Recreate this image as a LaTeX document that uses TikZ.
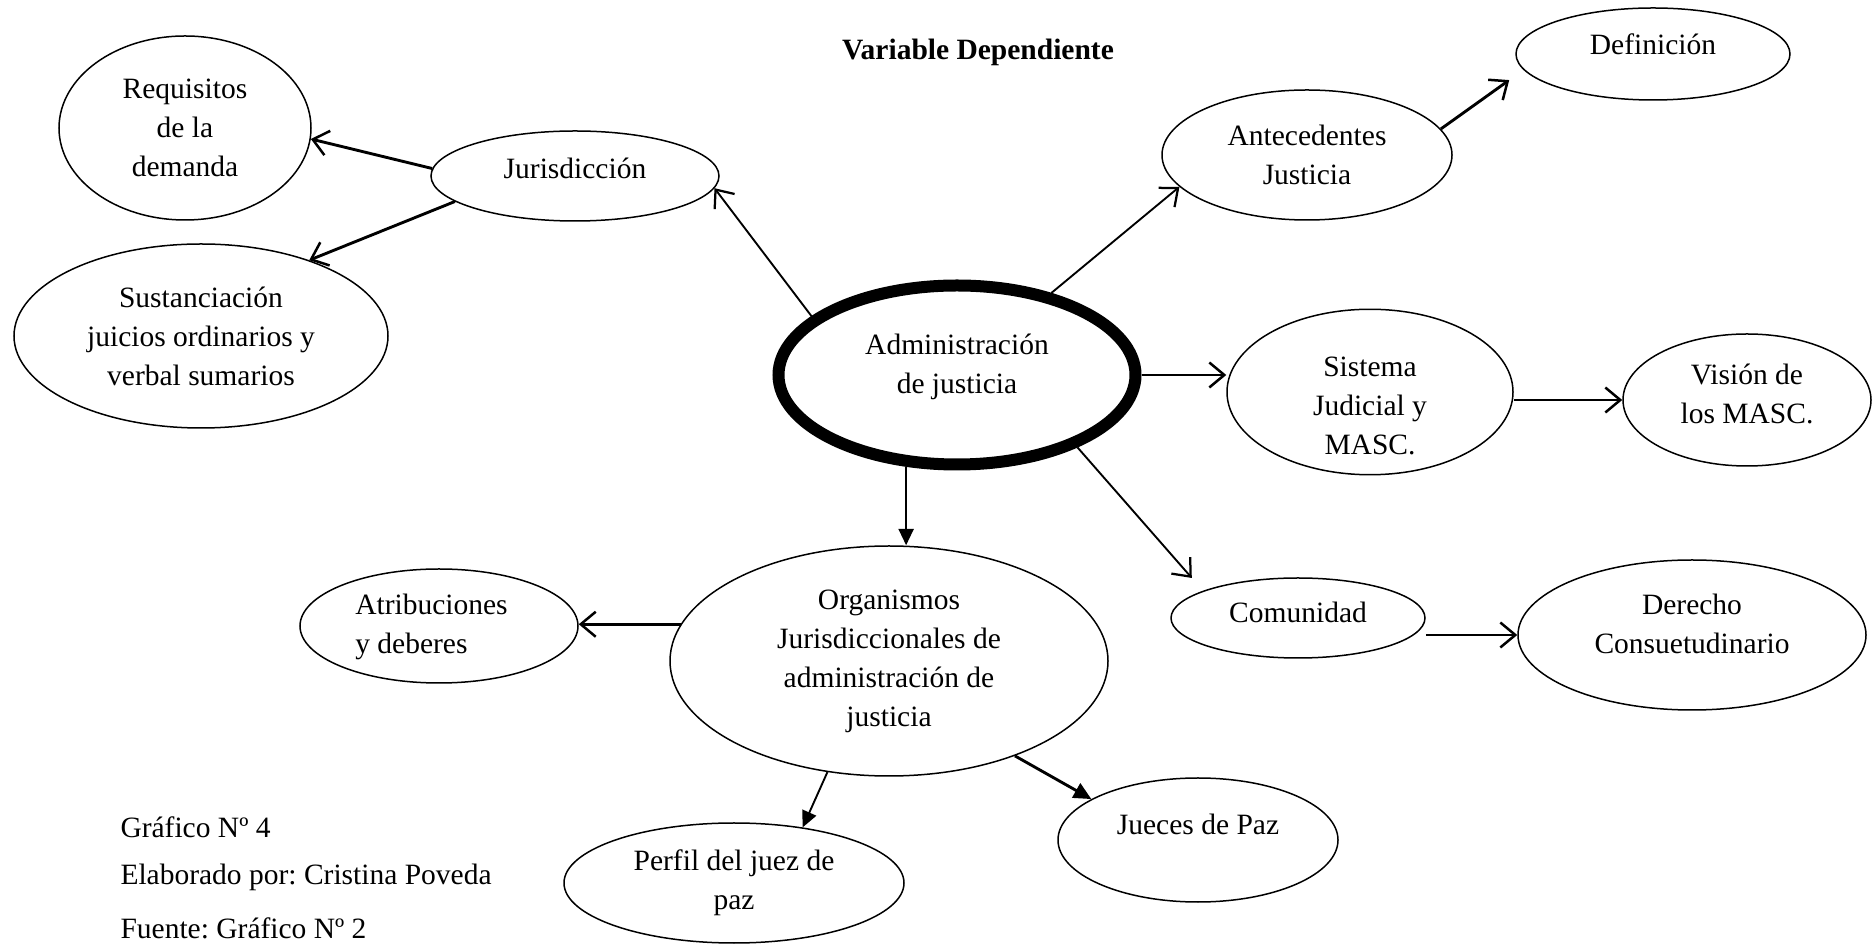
\documentclass[tikz,border=0pt]{standalone}
\usepackage{fontspec}
\setmainfont{Liberation Serif}
\usetikzlibrary{shapes.geometric,arrows.meta}
\frenchspacing
\newcommand\myfs{\fontsize{11.8pt}{15.6pt}\selectfont}
\newcommand\rbx[2]{\raisebox{#1}[\height][\depth]{\begin{tabular}{@{}c@{}}#2\end{tabular}}}
\tikzset{
  ell/.style={draw, ellipse, line width=0.6pt, inner sep=0pt, align=center, font=\myfs},
  plain/.style={inner sep=0pt, font=\myfs},
  arr/.style={line width=0.75pt, -{Straight Barb[length=6pt,width=10pt,line width=0.9pt]}},
  arrT/.style={line width=1.15pt, -{Straight Barb[length=6pt,width=10pt,line width=1pt]}},
  farr/.style={line width=0.75pt, -{Triangle[length=6.5pt,width=6pt]}},
  farrT/.style={line width=1.15pt, -{Triangle[length=7pt,width=6.5pt]}}
}
\begin{document}
\begin{tikzpicture}[x=0.4pt,y=-0.4pt]
\frenchspacing
\useasboundingbox (0,0) rectangle (1874,944);
% title
\node[plain, font=\myfs\bfseries] (title) at (978,52) {Variable Dependiente};
% nodes
\node[ell, minimum width=100.8pt, minimum height=73.6pt] (req) at (185,128) {Requisitos\\de la\\demanda};
\node[ell, minimum width=115.2pt, minimum height=36pt] (jur) at (575,176) {\rbx{2pt}{Jurisdicción}};
\node[ell, minimum width=149.6pt, minimum height=73.6pt] (sus) at (201,336) {Sustanciación\\juicios ordinarios y\\verbal sumarios};
\node[ell, line width=4.8pt, minimum width=142.8pt, minimum height=71.6pt] (admin) at (957,375) {\rbx{3.4pt}{Administración\\de justicia}};
\node[ell, minimum width=116pt, minimum height=52pt] (ant) at (1307,155) {Antecedentes\\Justicia};
\node[ell, minimum width=109.6pt, minimum height=36.8pt] (def) at (1653,54) {\rbx{2.8pt}{Definición}};
\node[ell, minimum width=114.4pt, minimum height=58.4pt] (sis) at (1370,392) {\rbx{-6.2pt}{Sistema\\Judicial y\\MASC.}};
\node[ell, minimum width=99.2pt, minimum height=52.8pt] (vis) at (1747,400) {\rbx{1.6pt}{Visión de\\los MASC.}};
\node[ell, minimum width=101.6pt, minimum height=32pt] (com) at (1298,618) {\rbx{1.2pt}{Comunidad}};
\node[ell, minimum width=139.2pt, minimum height=60pt] (der) at (1692,635) {\rbx{3.6pt}{Derecho\\Consuetudinario}};
\node[ell, minimum width=175.2pt, minimum height=92pt] (org) at (889,661) {Organismos\\Jurisdiccionales de\\administración de\\justicia};
\node[ell, align=left, minimum width=111.2pt, minimum height=45.6pt] (atr) at (439,626) {\hspace*{-6pt}\begin{tabular}{@{}l@{}}Atribuciones\\y deberes\end{tabular}};
\node[ell, minimum width=136pt, minimum height=48pt] (per) at (734,883) {Perfil del juez de\\paz};
\node[ell, minimum width=112pt, minimum height=49.6pt] (jue) at (1198,840) {\rbx{5.2pt}{Jueces de Paz}};
% footer texts
\node[plain, anchor=west] (g4) at (120,827) {Gráfico Nº 4};
\node[plain, anchor=west] (elab) at (120,877) {Elaborado por: Cristina Poveda};
\node[plain, anchor=west] (fue) at (120,928) {Fuente: Gráfico Nº 2};
% connectors
\draw[arrT] (jur.177) -- (req.-5);
\draw[arrT] (jur.192) -- (sus.35);
\draw[arr] (admin.158) -- (jur.-5);
\draw[arr] (admin.41) -- (ant.194);
\draw[arrT, shorten >=7pt] (ant.11) -- (def.187);
\draw[arrT] (admin.east) -- (admin.east -| sis.west);
\draw[arrT] (vis.west -| sis.east) -- (vis.west);
\draw[arr, shorten >=6.8pt] (admin.-31) -- (com.164);
\draw[arrT] (der.west -| com.east) -- (der.west);
\draw[farr] (admin.241) -- (admin.241 |- org.north);
\draw[arrT] (org.170) -- (org.170 -| atr.east);
\draw[farr] (org.241) -- (per.39);
\draw[farrT] (org.-37) -- (jue.159);
\end{tikzpicture}
\end{document}
